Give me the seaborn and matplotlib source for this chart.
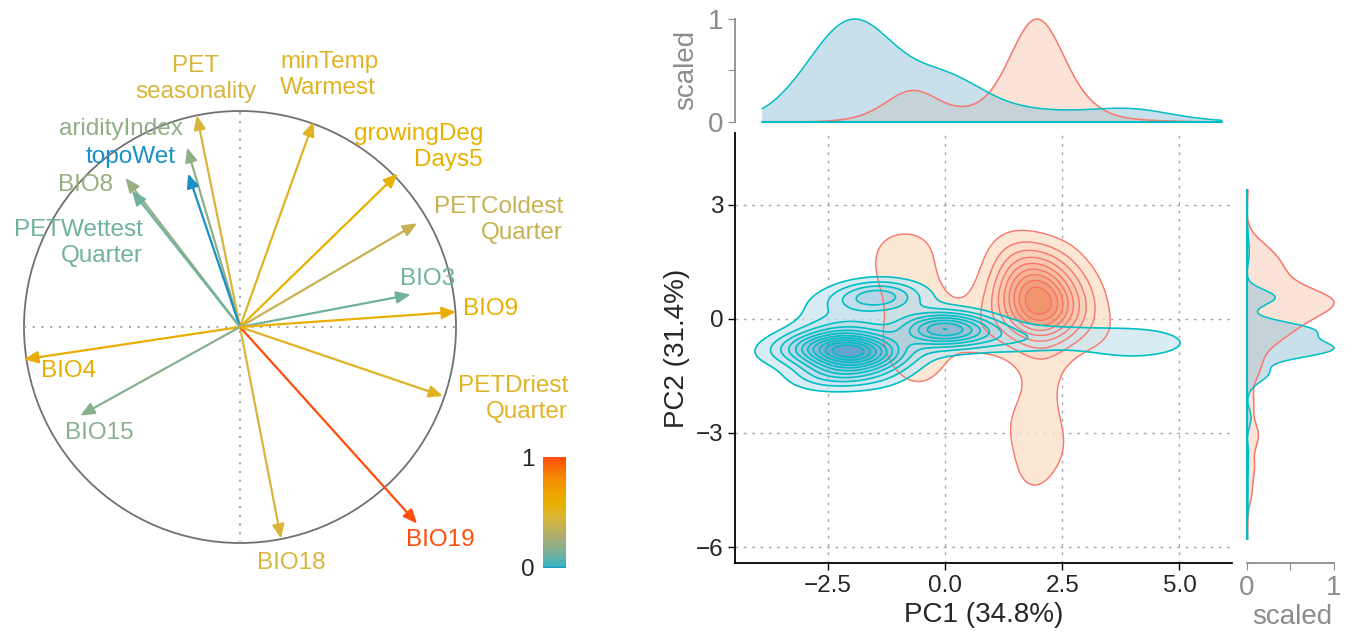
import numpy as np
import matplotlib
matplotlib.use("Agg")
import matplotlib.pyplot as plt
import seaborn as sns
from matplotlib.colors import LinearSegmentedColormap, Normalize
from matplotlib.patches import Circle
from matplotlib.cm import ScalarMappable
from seaborn._statistics import KDE

# ---- variable loadings (correlation circle) ----
var_names = ["PET\nseasonality", "minTemp\nWarmest", "aridityIndex", "topoWet", "BIO8",
             "PETWettest\nQuarter", "growingDeg\nDays5", "PETColdest\nQuarter", "BIO3", "BIO9",
             "BIO4", "BIO15", "BIO18", "BIO19", "PETDriest\nQuarter"]
pc1_load = [-0.20, 0.34, -0.245, -0.24, -0.53, -0.50, 0.73, 0.82, 0.79, 1.00,
            -1.00, -0.74, 0.19, 0.82, 0.94]
pc2_load = [0.98, 0.95, 0.83, 0.71, 0.69, 0.63, 0.71, 0.48, 0.15, 0.07,
            -0.15, -0.41, -0.98, -0.91, -0.32]
contrib = [0.45, 0.50, 0.20, 0.00, 0.22, 0.12, 0.58, 0.38, 0.12, 0.60,
           0.60, 0.17, 0.45, 1.00, 0.50]

# ---- PCA scores of the two groups (weighted sample points) ----
teal_x = [-2.0, -2.5, -1.5, -2.9, -2.2, -1.9, -3.3, -2.7, -1.5, -2.6, -1.1,
          -1.4, -1.9, -0.9, -2.6,
          -0.1, -0.5, 0.4, 0.9, -0.2,
          1.5, 2.2, 2.9, 3.6, 4.1, 4.6, 5.2, 5.9, 4.0, 3.8,
          -1.5, 0.5, 2.5, -0.5, 1.5, -2.5, 0.0, 1.0, -3.9, 0.5, -1.0, 2.0, -3.0, 3.5]
teal_y = [-0.85, -0.75, -0.9, -0.7, -1.35, -0.3, -0.9, -1.55, -1.5, -0.1, -1.1,
          0.6, 0.5, 0.55, 0.35,
          -0.25, -0.2, -0.3, -0.4, -0.7,
          -0.55, -0.5, -0.5, -0.6, -0.65, -0.6, -0.7, -0.8, -1.8, 0.6,
          -2.6, -2.5, -2.8, -3.5, -4.0, -4.5, -5.0, -5.8, -0.9, 1.6, 2.2, 2.9, 1.9, 1.8]
teal_w = [9, 4, 4, 2.5, 3.5, 3, 1, 1.5, 1.5, 1.0, 0.8,
          5, 1.5, 0.8, 0.8,
          8, 1.0, 2.5, 1.5, 0.8,
          1.2, 1.1, 1.0, 1.1, 1.25, 0.8, 0.3, 0.1, 0.5, 0.45,
          0.5, 0.5, 0.4, 0.45, 0.35, 0.3, 0.3, 0.2, 0.4, 0.4, 0.3, 0.15, 0.2, 0.2]

orange_x = [2.0, 1.8, 2.3, 1.6, 2.4, 1.5, 2.9, 2.0, 1.3, 2.7,
            -1.1, -0.4, -0.8, -0.6, -1.3,
            -0.5, 0.3, -0.7, 0.9, -0.9, -0.3, -0.8, -0.6, 0.6, -1.4,
            -0.6,
            2.1, 2.0, 2.0, 1.9, 1.8, 1.5, 2.4,
            3.3, 4.0, 4.8,
            0.0, -1.0, 3.0, 0.5, 0.5, -2.0]
orange_y = [0.5, 1.1, 0.2, 0.0, 1.4, 1.7, 0.7, -0.3, 0.6, 0.1,
            1.9, 2.0, 1.3, 1.8, 1.6,
            0.3, 0.0, -0.6, -0.3, 0.9, -0.9, -1.0, 0.6, -0.6, -0.3,
            -1.5,
            -1.3, -2.2, -3.1, -3.9, -4.6, -2.8, -3.3,
            -0.5, -0.3, 0.0,
            -3.0, -4.0, -4.5, -5.5, 3.4, 0.5]
orange_w = [8, 3.5, 3, 2.5, 2, 1.8, 1.5, 2, 2.0, 1.3,
            0.65, 0.6, 0.7, 0.45, 0.55,
            1.2, 0.8, 1.2, 0.9, 0.8, 0.7, 0.6, 0.6, 0.7, 0.5,
            0.8,
            1.3, 1.2, 1.2, 1.1, 0.7, 0.6, 0.5,
            0.8, 0.4, 0.15,
            0.3, 0.25, 0.2, 0.15, 0.2, 0.35]

TEAL = "#00BFC4"
SALMON = "#F8766D"
GREY = "#8c8c8c"

sns.set_style("white")
plt.rcParams["font.family"] = ["Liberation Sans", "DejaVu Sans"]

fig = plt.figure(figsize=(13.52, 6.4), dpi=100)

# ================= left: correlation circle =================
ax0 = fig.add_axes([0, 0, 600 / 1352, 1])
ax0.set_xlim(-240 / 216, 360 / 216)
ax0.set_ylim(-313 / 216, 327 / 216)
ax0.axis("off")

cmap = LinearSegmentedColormap.from_list(
    "contrib",
    [(0.0, "#1890C8"), (0.015, "#38B3C3"), (0.15, "#82B094"), (0.3, "#B0AE6A"),
     (0.45, "#DAB53C"), (0.58, "#E8B100"), (0.78, "#F39300"), (1.0, "#FF4D0A")])
norm = Normalize(0, 1)

ax0.add_patch(Circle((0, 0), 1, fill=False, edgecolor="#707070", lw=1.3))
ax0.plot([-1, 1], [0, 0], ls=(0, (1, 3.5)), color="#a0a0a0", lw=1.4)
ax0.plot([0, 0], [-1, 1], ls=(0, (1, 3.5)), color="#a0a0a0", lw=1.4)

label_pos = [(-0.204, 1.148, "center"), (0.185, 1.167, "left"), (-0.551, 0.917, "center"),
             (-0.505, 0.787, "center"), (-0.713, 0.657, "center"), (-0.449, 0.389, "right"),
             (1.125, 0.833, "right"), (1.495, 0.495, "right"), (0.870, 0.222, "center"),
             (1.162, 0.083, "center"), (-0.796, -0.204, "center"), (-0.653, -0.491, "center"),
             (0.236, -1.093, "center"), (0.926, -0.986, "center"), (1.519, -0.333, "right")]

for name, px, py, c, (lx, ly, ha) in zip(var_names, pc1_load, pc2_load, contrib, label_pos):
    col = cmap(norm(c))
    ax0.annotate("", xy=(px, py), xytext=(0, 0),
                 arrowprops=dict(arrowstyle="-|>,head_length=0.7,head_width=0.3",
                                 color=col, lw=1.6, shrinkA=0, shrinkB=0,
                                 mutation_scale=12))
    ax0.text(lx, ly, name, color=col, fontsize=17.5, ha=ha, va="center",
             multialignment=ha, linespacing=1.25)

cax = fig.add_axes([543 / 1352, 72 / 640, 23 / 1352, 111 / 640])
cb = fig.colorbar(ScalarMappable(norm=norm, cmap=cmap), cax=cax)
cb.outline.set_visible(False)
cb.set_ticks([0, 0.25, 0.5, 0.75, 1])
cb.set_ticklabels(["0", "", "", "", "1"])
cax.yaxis.set_ticks_position("both")
cax.yaxis.set_label_position("left")
cax.tick_params(axis="y", direction="in", color="white", length=3, width=1,
                labelleft=True, labelright=False, labelsize=17.5, pad=6)


# ================= right: score density =================
def density_levels(xs, ys, ws, bw, n_bins):
    """iso-proportion levels matching equally spaced density breaks"""
    kde = KDE(bw_method=bw, gridsize=200, cut=3)
    dens, _ = kde(np.asarray(xs, float), np.asarray(ys, float),
                  weights=np.asarray(ws, float))
    flat = dens.ravel()
    step = flat.max() / n_bins
    return [flat[flat < step * k].sum() / flat.sum() for k in range(1, n_bins)]


XL = (-4.48, 6.12)
YL = (-6.42, 4.89)
BW_T = 0.31
BW_O = 0.38
ax = fig.add_axes([735 / 1352, 77 / 640, 497 / 1352, 430 / 640])
ax_top = fig.add_axes([735 / 1352, 513 / 640, 497 / 1352, 115 / 640])
ax_r = fig.add_axes([1240 / 1352, 77 / 640, 105 / 1352, 430 / 640])

teal_fill = LinearSegmentedColormap.from_list("tf", ["#D1EBF3", "#297FB9"])
orange_fill = LinearSegmentedColormap.from_list("of", ["#FDE7D1", "#EB6B35"])

lv_o = density_levels(orange_x, orange_y, orange_w, BW_O, 10)
lv_t = density_levels(teal_x, teal_y, teal_w, BW_T, 12)

sns.kdeplot(x=orange_x, y=orange_y, weights=orange_w, fill=True, levels=lv_o + [1.0],
            bw_method=BW_O, cmap=orange_fill, alpha=0.75, ax=ax)
sns.kdeplot(x=teal_x, y=teal_y, weights=teal_w, fill=True, levels=lv_t + [1.0],
            bw_method=BW_T, cmap=teal_fill, alpha=0.75, ax=ax)
sns.kdeplot(x=orange_x, y=orange_y, weights=orange_w, fill=False, levels=lv_o,
            bw_method=BW_O, color=SALMON, linewidths=1, ax=ax)
sns.kdeplot(x=teal_x, y=teal_y, weights=teal_w, fill=False, levels=lv_t,
            bw_method=BW_T, color=TEAL, linewidths=1.2, ax=ax)

ax.set_xlim(*XL)
ax.set_ylim(*YL)
ax.set_xticks([-2.5, 0.0, 2.5, 5.0])
ax.set_xticklabels(["\u22122.5", "0.0", "2.5", "5.0"])
ax.set_yticks([3, 0, -3, -6])
ax.set_yticklabels(["3", "0", "\u22123", "\u22126"])
ax.grid(True, ls=(0, (2, 4)), color="#a8a8a8", lw=1)
for s in ["top", "right"]:
    ax.spines[s].set_visible(False)
for s in ["left", "bottom"]:
    ax.spines[s].set_color("black")
    ax.spines[s].set_linewidth(1.3)
ax.tick_params(direction="out", length=5, width=1, color="black", labelsize=17.5,
               left=True, bottom=True)
ax.set_xlabel("PC1 (34.8%)", fontsize=20, labelpad=4)
ax.set_ylabel("PC2 (31.4%)", fontsize=20, labelpad=4)

# marginals (scaled densities)
all_x = np.array(teal_x + orange_x)
all_y = np.array(teal_y + orange_y)
for xs, ys, ws, line, face in [(orange_x, orange_y, orange_w, SALMON, "#F9CBB1"),
                               (teal_x, teal_y, teal_w, TEAL, "#91C3DB")]:
    kx = KDE(bw_method=0.37, cut=3, clip=(all_x.min(), all_x.max()), gridsize=300)
    dx, sx = kx(np.asarray(xs), weights=np.asarray(ws))
    dx = dx / dx.max()
    ax_top.fill_between(sx, 0, dx, facecolor=face, alpha=0.5, edgecolor="none")
    ax_top.plot(sx, dx, color=line, lw=1.1)
    ax_top.plot([sx[0], sx[-1]], [0, 0], color=line, lw=1.5)

    ky = KDE(bw_method=0.2, cut=3, clip=(all_y.min(), all_y.max()), gridsize=300)
    dy, sy = ky(np.asarray(ys), weights=np.asarray(ws))
    dy = dy / dy.max()
    ax_r.fill_betweenx(sy, 0, dy, facecolor=face, alpha=0.5, edgecolor="none")
    ax_r.plot(dy, sy, color=line, lw=1.1)
    ax_r.plot([0, 0], [sy[0], sy[-1]], color=line, lw=1.5)

ax_top.set_xlim(*XL)
ax_top.set_ylim(-0.049, 1.068)
ax_top.set_xticks([])
ax_top.set_yticks([0, 0.5, 1])
ax_top.set_yticklabels(["0", "", "1"])
for s in ["top", "right", "bottom"]:
    ax_top.spines[s].set_visible(False)
ax_top.spines["left"].set_bounds(0, 1)
ax_top.spines["left"].set_color(GREY)
ax_top.spines["left"].set_linewidth(1.3)
ax_top.tick_params(axis="y", direction="out", length=5, color=GREY, labelcolor=GREY,
                   labelsize=20, left=True)
ax_top.set_ylabel("scaled", color=GREY, fontsize=20, labelpad=6)

ax_r.set_ylim(*YL)
ax_r.set_xlim(-0.08, 1.126)
ax_r.set_yticks([])
ax_r.set_xticks([0, 0.5, 1])
ax_r.set_xticklabels(["0", "", "1"])
for s in ["top", "right", "left"]:
    ax_r.spines[s].set_visible(False)
ax_r.spines["bottom"].set_bounds(0, 1)
ax_r.spines["bottom"].set_color(GREY)
ax_r.spines["bottom"].set_linewidth(1.3)
ax_r.tick_params(axis="x", direction="out", length=5, color=GREY, labelcolor=GREY,
                 labelsize=20, bottom=True)
ax_r.set_xlabel("scaled", color=GREY, fontsize=20, labelpad=2)

fig.savefig("out.png", dpi=100)
